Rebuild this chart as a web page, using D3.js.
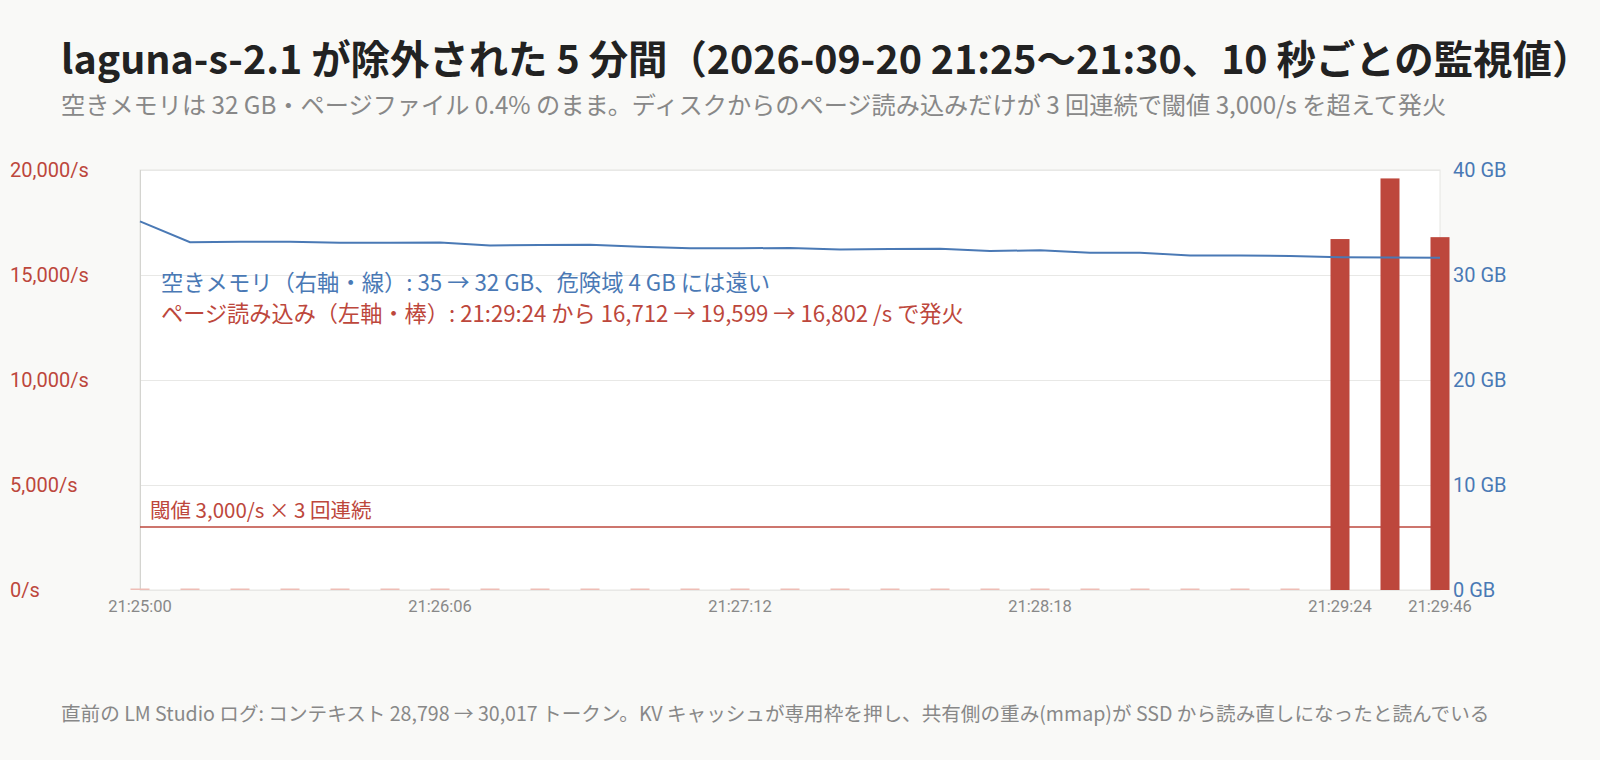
<!DOCTYPE html>
<html lang="ja">
<head>
<meta charset="utf-8">
<script src="https://cdn.jsdelivr.net/npm/d3@7"></script>
<style>
  html, body { margin: 0; padding: 0; background: #f9f9f7; }
  svg { display: block; }
</style>
</head>
<body>
<svg id="chart" width="1600" height="760"></svg>
<script>
// 10-second samples (actual spacing 11 s) during the 5 minutes
const TIMES = [
  '21:25:00', '21:25:11', '21:25:22', '21:25:33', '21:25:44', '21:25:55',
  '21:26:06', '21:26:17', '21:26:28', '21:26:39', '21:26:50', '21:27:01',
  '21:27:12', '21:27:23', '21:27:34', '21:27:45', '21:27:56', '21:28:07',
  '21:28:18', '21:28:29', '21:28:40', '21:28:51', '21:29:02', '21:29:13',
  '21:29:24', '21:29:35', '21:29:46',
];
// page reads from disk (/s), left axis
const PAGE_READS = [
  42, 38, 45, 40, 36, 44, 41, 39, 47, 43, 37, 40,
  46, 42, 38, 41, 44, 39, 43, 40, 45, 38, 42, 41,
  16712, 19599, 16802,
];
// free memory (GB), right axis
const FREE_GB = [
  35.10, 33.12, 33.17, 33.17, 33.08, 33.08, 33.10, 32.81, 32.86,
  32.88, 32.68, 32.54, 32.55, 32.57, 32.44, 32.47, 32.49, 32.29,
  32.35, 32.13, 32.13, 31.86, 31.86, 31.81, 31.70, 31.67, 31.65,
];
const TICK_TIMES = ['21:25:00', '21:26:06', '21:27:12', '21:28:18', '21:29:24', '21:29:46'];
const LEFT_TICKS = [0, 5000, 10000, 15000, 20000];
const RIGHT_TICKS = [0, 10, 20, 30, 40];
const THRESHOLD = 3000;

(function drawChart() {
  const svg = d3.select('#chart');
  const FONT = '"Noto Sans CJK JP", "Noto Sans", sans-serif';
  const TICK_FONT = 'Roboto, "Noto Sans", sans-serif';
  const RED = '#bd473c', PINK = '#eebdb5', BLUE = '#4a79b5', GREY = '#888888';

  const L = 140, R = 1440, T = 170, B = 590;

  const x = d3.scalePoint().domain(TIMES).range([L, R]);
  const yLeft = d3.scaleLinear().domain([0, 20000]).range([B, T]);
  const yRight = d3.scaleLinear().domain([0, 40]).range([B, T]);
  const barW = x.step() * 0.38;

  // ── Titles ────────────────────────────────────────────────────────────────
  svg.append('text')
    .attr('x', 61).attr('y', 74)
    .attr('fill', '#222')
    .attr('font-size', '39.4px').attr('font-weight', 700)
    .attr('font-family', FONT)
    .text('laguna-s-2.1 が除外された 5 分間（2026-09-20 21:25〜21:30、10 秒ごとの監視値）');

  svg.append('text')
    .attr('x', 61).attr('y', 114)
    .attr('fill', GREY)
    .attr('font-size', '24.2px')
    .attr('font-family', FONT)
    .text('空きメモリは 32 GB・ページファイル 0.4% のまま。ディスクからのページ読み込みだけが 3 回連続で閾値 3,000/s を超えて発火');

  // ── Plot frame + grid ─────────────────────────────────────────────────────
  svg.append('rect')
    .attr('x', L).attr('y', T).attr('width', R - L).attr('height', B - T)
    .attr('fill', '#fff').attr('stroke', '#e6e6e2').attr('stroke-width', 1);

  svg.append('g').selectAll('line').data(LEFT_TICKS).join('line')
    .attr('x1', L).attr('x2', R)
    .attr('y1', d => Math.round(yLeft(d)) + 0.5).attr('y2', d => Math.round(yLeft(d)) + 0.5)
    .attr('stroke', '#e8e8e6');

  svg.append('line')
    .attr('x1', L + 0.5).attr('x2', L + 0.5).attr('y1', T).attr('y2', B)
    .attr('stroke', '#d4d4d0');

  // ── Axes labels ───────────────────────────────────────────────────────────
  svg.append('g').selectAll('text').data(LEFT_TICKS).join('text')
    .attr('x', 10).attr('y', d => yLeft(d))
    .attr('dy', '0.35em')
    .attr('fill', RED)
    .attr('font-size', '20px').attr('font-family', TICK_FONT)
    .text(d => `${d3.format(',')(d)}/s`);

  svg.append('g').selectAll('text').data(RIGHT_TICKS).join('text')
    .attr('x', 1453).attr('y', d => yRight(d))
    .attr('dy', '0.35em')
    .attr('fill', BLUE)
    .attr('font-size', '20px').attr('font-family', TICK_FONT)
    .text(d => `${d} GB`);

  svg.append('g').selectAll('text').data(TICK_TIMES).join('text')
    .attr('x', d => x(d)).attr('y', 612)
    .attr('text-anchor', 'middle')
    .attr('fill', GREY)
    .attr('font-size', '16.5px').attr('font-family', TICK_FONT)
    .text(d => d);

  // ── Threshold ─────────────────────────────────────────────────────────────
  svg.append('line')
    .attr('x1', L).attr('x2', R)
    .attr('y1', yLeft(THRESHOLD)).attr('y2', yLeft(THRESHOLD))
    .attr('stroke', RED).attr('stroke-width', 1.5);

  svg.append('text')
    .attr('x', 150).attr('y', yLeft(THRESHOLD) - 9)
    .attr('fill', RED)
    .attr('font-size', '20.5px').attr('font-family', FONT)
    .text('閾値 3,000/s × 3 回連続');

  // ── Bars (page reads) ─────────────────────────────────────────────────────
  svg.append('g').selectAll('rect').data(PAGE_READS).join('rect')
    .attr('x', (d, i) => x(TIMES[i]) - barW / 2)
    .attr('width', barW)
    .attr('y', d => Math.min(yLeft(d), B - 1.5))
    .attr('height', d => Math.max(B - yLeft(d), 1.5))
    .attr('fill', d => d > THRESHOLD ? RED : PINK);

  // ── Line (free memory) ────────────────────────────────────────────────────
  svg.append('path')
    .datum(FREE_GB)
    .attr('fill', 'none')
    .attr('stroke', BLUE)
    .attr('stroke-width', 2)
    .attr('d', d3.line()
      .x((d, i) => x(TIMES[i]))
      .y(d => yRight(d)));

  // ── Annotations ───────────────────────────────────────────────────────────
  svg.append('text')
    .attr('x', 161).attr('y', 291)
    .attr('fill', BLUE)
    .attr('font-size', '22.3px').attr('font-family', FONT)
    .text('空きメモリ（右軸・線）: 35 → 32 GB、危険域 4 GB には遠い');

  svg.append('text')
    .attr('x', 161).attr('y', 322)
    .attr('fill', RED)
    .attr('font-size', '22.2px').attr('font-family', FONT)
    .text('ページ読み込み（左軸・棒）: 21:29:24 から 16,712 → 19,599 → 16,802 /s で発火');

  // ── Footer ────────────────────────────────────────────────────────────────
  svg.append('text')
    .attr('x', 61).attr('y', 721)
    .attr('fill', GREY)
    .attr('font-size', '19.6px').attr('font-family', FONT)
    .text('直前の LM Studio ログ: コンテキスト 28,798 → 30,017 トークン。KV キャッシュが専用枠を押し、共有側の重み(mmap)が SSD から読み直しになったと読んでいる');
})();
</script>
</body>
</html>
